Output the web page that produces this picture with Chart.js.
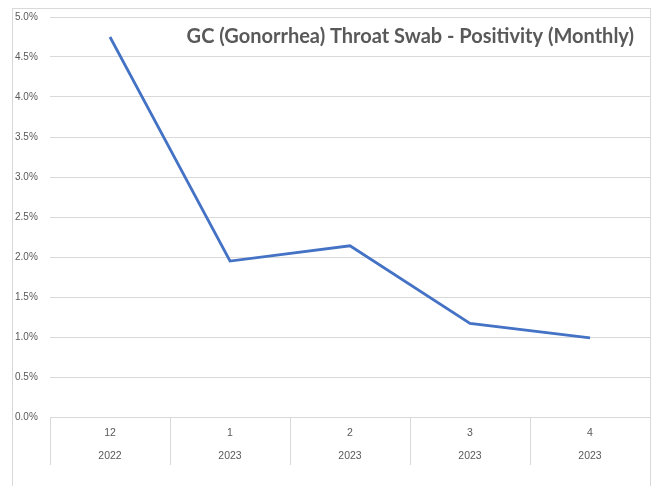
<!DOCTYPE html>
<html>
<head>
<meta charset="utf-8">
<script src="https://cdn.jsdelivr.net/npm/chart.js@4.4.0/dist/chart.umd.min.js"></script>
<style>
    html, body { margin: 0; padding: 0; background: #fff; overflow: hidden; }
    body { width: 654px; height: 486px; position: relative; }
    #frame {
        position: absolute; left: 12px; top: 8px;
        width: 637px; height: 490px;
        border: 1px solid #d9d9d9;
    }
    canvas { display: block; }
</style>
</head>
<body>
<div id="frame"><canvas id="chart" width="637" height="477"></canvas></div>
<script>
// Chart data
const months = ['12', '1', '2', '3', '4'];
const years = ['2022', '2023', '2023', '2023', '2023'];
const positivity = [4.75, 1.95, 2.14, 1.17, 0.99]; // percent
const chartTitle = 'GC (Gonorrhea) Throat Swab - Positivity (Monthly)';

const labelColor = '#595959';
const gridColor = '#d9d9d9';

// Title drawn inside the plot area, top right (like Excel)
const insideTitle = {
    id: 'insideTitle',
    afterDraw(chart) {
        const ctx = chart.ctx;
        const area = chart.chartArea;
        ctx.save();
        ctx.font = 'bold 20px Lato, "Liberation Sans", sans-serif';
        ctx.fillStyle = labelColor;
        ctx.textAlign = 'right';
        ctx.textBaseline = 'middle';
        ctx.fillText(chartTitle, area.right - 16, area.top + 20);
        ctx.restore();
    }
};

const ctx = document.getElementById('chart').getContext('2d');
const chart = new Chart(ctx, {
    type: 'line',
    data: {
        labels: months.map((m, i) => [m, years[i]]),
        datasets: [{
            label: 'Positivity',
            data: positivity,
            borderColor: '#4472C4',
            backgroundColor: '#4472C4',
            borderWidth: 2.75,
            pointRadius: 0,
            tension: 0
        }]
    },
    options: {
        responsive: false,
        animation: false,
        layout: {
            padding: { top: 8, left: 2, right: 0, bottom: 0 }
        },
        plugins: {
            legend: { display: false },
            title: { display: false },
            tooltip: { enabled: false }
        },
        scales: {
            x: {
                offset: true,
                grid: {
                    offset: true,
                    drawOnChartArea: false,
                    tickLength: 48,
                    color: gridColor
                },
                border: { display: true, color: gridColor },
                ticks: {
                    color: labelColor,
                    font: { family: '"Liberation Sans", sans-serif', size: 10.5, lineHeight: 2.2 },
                    padding: -43.5,
                    maxRotation: 0,
                    autoSkip: false
                },
                afterFit(scale) { scale.height = 69; }
            },
            y: {
                min: 0,
                max: 5,
                grid: {
                    color: gridColor,
                    drawTicks: false
                },
                border: { display: false },
                ticks: {
                    stepSize: 0.5,
                    color: labelColor,
                    font: { family: '"Liberation Sans", sans-serif', size: 10 },
                    crossAlign: 'far',
                    padding: 0,
                    callback: v => v.toFixed(1) + '%'
                },
                afterFit(scale) { scale.width = 35; }
            }
        }
    },
    plugins: [insideTitle]
});
</script>
</body>
</html>
